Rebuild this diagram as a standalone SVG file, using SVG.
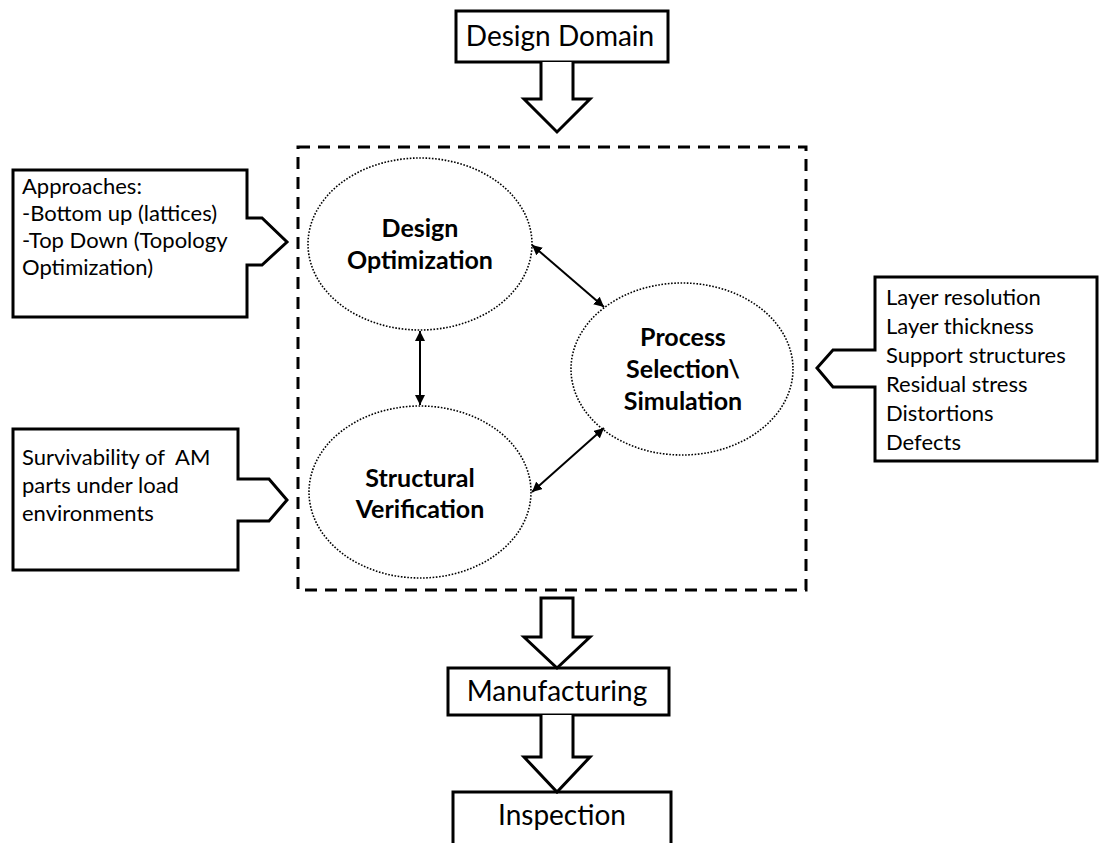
<svg xmlns="http://www.w3.org/2000/svg" width="1106" height="843" viewBox="0 0 1106 843">
<style>
.box{fill:#fff;stroke:#000;stroke-width:3}
.blk{fill:#fff;stroke:#000;stroke-width:3;stroke-linejoin:miter}
.ell{fill:#fff;stroke:#000;stroke-width:1.6;stroke-dasharray:1.6 1.6}
.t{font-family:Lato,"Liberation Sans",sans-serif;fill:#000}
.big{font-size:28px}
.small{font-size:22px}
.bold{font-size:25px;font-weight:bold}
.con{stroke:#000;stroke-width:2;fill:none;marker-start:url(#ah);marker-end:url(#ah)}
</style>
<defs>
<marker id="ah" viewBox="0 0 10 10" refX="10" refY="5" markerWidth="5" markerHeight="5" orient="auto-start-reverse" markerUnits="strokeWidth">
<path d="M0,0 L10,5 L0,10 Z" fill="#000"/>
</marker>
</defs>
<rect width="1106" height="843" fill="#fff"/>

<g id="frame">
<rect x="298" y="147" width="508" height="443" fill="none" stroke="#000" stroke-width="3" stroke-dasharray="12 8"/>
</g>

<g id="design-domain">
<rect class="box" x="456" y="11" width="212" height="51"/>
<text class="t big" x="560" y="46" text-anchor="middle">Design Domain</text>
</g>

<g id="manufacturing">
<rect class="box" x="448" y="668" width="221" height="47"/>
<text class="t big" x="557" y="701" text-anchor="middle">Manufacturing</text>
</g>

<g id="inspection">
<rect class="box" x="453" y="792" width="218" height="60"/>
<text class="t big" x="562" y="825" text-anchor="middle">Inspection</text>
</g>

<g id="design-optimization">
<ellipse class="ell" cx="420" cy="244" rx="112" ry="86"/>
<text class="t bold" x="420" y="237" text-anchor="middle">Design</text>
<text class="t bold" x="420" y="269" text-anchor="middle">Optimization</text>
</g>

<g id="structural-verification">
<ellipse class="ell" cx="420" cy="492" rx="111" ry="86"/>
<text class="t bold" x="420" y="487" text-anchor="middle">Structural</text>
<text class="t bold" x="420" y="518" text-anchor="middle">Verification</text>
</g>

<g id="process-selection">
<ellipse class="ell" cx="682" cy="369" rx="111" ry="86"/>
<text class="t bold" x="683" y="346" text-anchor="middle">Process</text>
<text class="t bold" x="683" y="378" text-anchor="middle">Selection\</text>
<text class="t bold" x="683" y="410" text-anchor="middle">Simulation</text>
</g>

<g id="callout-approaches">
<path class="box" d="M13,170 H247 V218 H262 L287,242 L262,265 H247 V317 H13 Z"/>
<text class="t small" x="22" y="194">Approaches:</text>
<text class="t small" x="22" y="221">-Bottom up (lattices)</text>
<text class="t small" x="22" y="248">-Top Down (Topology</text>
<text class="t small" x="22" y="275">Optimization)</text>
</g>

<g id="callout-survivability">
<path class="box" d="M13,429 H238 V479 H269 L287,500 L269,521 H238 V570 H13 Z"/>
<text class="t small" x="22" y="465" xml:space="preserve">Survivability of  AM</text>
<text class="t small" x="22" y="493">parts under load</text>
<text class="t small" x="22" y="521">environments</text>
</g>

<g id="callout-process">
<path class="box" d="M875,277 H1097 V461 H875 V387 H833 L817,368 L833,350 H875 Z"/>
<text class="t small" x="886" y="305">Layer resolution</text>
<text class="t small" x="886" y="334">Layer thickness</text>
<text class="t small" x="886" y="363">Support structures</text>
<text class="t small" x="886" y="392">Residual stress</text>
<text class="t small" x="886" y="421">Distortions</text>
<text class="t small" x="886" y="450">Defects</text>
</g>

<g id="connectors">
<path class="blk" d="M541,62 V99 H524 L557,132 L590,99 H573 V62"/>
<path class="blk" d="M541,598 H573 V637 H590 L557,668 L524,637 H541 Z"/>
<path class="blk" d="M541,715 V757 H524 L557,792 L590,757 H573 V715"/>
<line class="con" x1="420" y1="331" x2="420" y2="405"/>
<line class="con" x1="532" y1="245" x2="604" y2="307"/>
<line class="con" x1="532" y1="492" x2="604" y2="428"/>
</g>
</svg>
